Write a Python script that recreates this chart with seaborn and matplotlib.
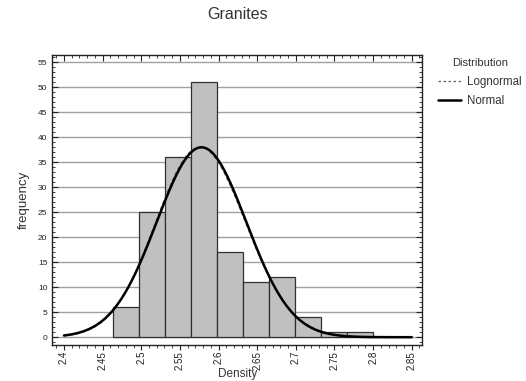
import numpy as np
import pandas as pd
import matplotlib
matplotlib.use("Agg")
import matplotlib.pyplot as plt
from matplotlib.ticker import MultipleLocator
from matplotlib.lines import Line2D
import seaborn as sns

# Histogram of granite densities
bin_start = 2.4633
bin_width = 0.03367
counts = [6, 25, 36, 51, 17, 11, 12, 4, 1, 1]

# Fitted distributions
fit_mean = 2.578
fit_sd = 0.058
x_ticks = [2.4, 2.45, 2.5, 2.55, 2.6, 2.65, 2.7, 2.75, 2.8, 2.85]
y_ticks = [0, 5, 10, 15, 20, 25, 30, 35, 40, 45, 50, 55]

sns.set_style("white")
plt.rcParams['font.family'] = ['Liberation Sans', 'DejaVu Sans']

edges = [bin_start + bin_width * i for i in range(len(counts) + 1)]
centers = [(edges[i] + edges[i + 1]) / 2 for i in range(len(counts))]
df = pd.DataFrame({"Density": centers, "count": counts})

n_total = sum(counts)
xs = np.linspace(2.4, 2.85, 400)
normal = n_total * bin_width * np.exp(-0.5 * ((xs - fit_mean) / fit_sd) ** 2) / (fit_sd * np.sqrt(2 * np.pi))
s2 = np.log(1 + (fit_sd / fit_mean) ** 2)
mu = np.log(fit_mean) - s2 / 2
lognormal = n_total * bin_width * np.exp(-(np.log(xs) - mu) ** 2 / (2 * s2)) / (xs * np.sqrt(2 * np.pi * s2))
curves = pd.DataFrame({"x": xs, "normal": normal, "lognormal": lognormal})

fig = plt.figure(figsize=(5.26, 3.81), dpi=100)
ax = fig.add_axes([52.3 / 526, 1 - 344.7 / 381, (422.3 - 52.3) / 526, (344.7 - 54.7) / 381])

for yv in y_ticks:
    ax.axhline(yv, color="#a0a0a0", lw=1.0, zorder=0)

sns.histplot(data=df, x="Density", weights="count", bins=edges, ax=ax,
             color="#c0c0c0", alpha=1.0, edgecolor="#303030", linewidth=0.9, zorder=2)
sns.lineplot(data=curves, x="x", y="lognormal", ax=ax, color="#606060",
             lw=0.9, linestyle=(0, (3, 2)), zorder=3)
sns.lineplot(data=curves, x="x", y="normal", ax=ax, color="black", lw=1.8, zorder=4)

ax.set_xlim(2.3849, 2.8637)
ax.set_ylim(-1.5, 56.5)
ax.set_xticks(x_ticks)
ax.set_xticklabels([f"{v:g}" for v in x_ticks], rotation=90)
ax.set_yticks(y_ticks)
ax.xaxis.set_minor_locator(MultipleLocator(0.01))
ax.yaxis.set_minor_locator(MultipleLocator(1))
ax.tick_params(axis="x", which="both", direction="out", top=False, bottom=True,
               labelsize=7, colors="#222222", pad=1)
ax.tick_params(axis="x", which="major", length=3.5, width=0.8)
ax.tick_params(axis="x", which="minor", length=2.5, width=0.6)
ax.tick_params(axis="y", which="both", direction="in", left=True, right=True,
               labelsize=6, colors="#222222")
ax.tick_params(axis="y", which="major", length=4, width=0.8)
ax.tick_params(axis="y", which="minor", length=2.5, width=0.6)

# Inward ticks along the top edge
top = ax.secondary_xaxis("top")
top.set_xticks(x_ticks)
top.xaxis.set_minor_locator(MultipleLocator(0.01))
top.tick_params(axis="x", which="both", direction="in", labeltop=False, colors="#222222")
top.tick_params(axis="x", which="major", length=4, width=0.8)
top.tick_params(axis="x", which="minor", length=2.5, width=0.6)
top.spines["top"].set_visible(False)

for spine in ax.spines.values():
    spine.set_color("#222222")
    spine.set_linewidth(1.0)

ax.set_xlabel("Density", fontsize=8.5, labelpad=-1, color="#333333")
ax.set_ylabel("frequency", fontsize=9.5, labelpad=6, color="#333333")
ax.set_title("Granites", fontsize=11.5, pad=26, color="#333333")

handles = [Line2D([], [], color="#606060", lw=0.9, linestyle=(0, (2, 2))),
           Line2D([], [], color="black", lw=1.8)]
leg = fig.legend(handles, ["Lognormal", "Normal"], title="Distribution",
                 loc="upper left", bbox_to_anchor=(428 / 526, 1 - 48 / 381),
                 frameon=False, fontsize=8.3, title_fontsize=8,
                 handlelength=2.0, handletextpad=0.5, labelspacing=0.65)
leg.get_title().set_color("#333333")
for t in leg.get_texts():
    t.set_color("#333333")

fig.savefig("out.png", dpi=100)
